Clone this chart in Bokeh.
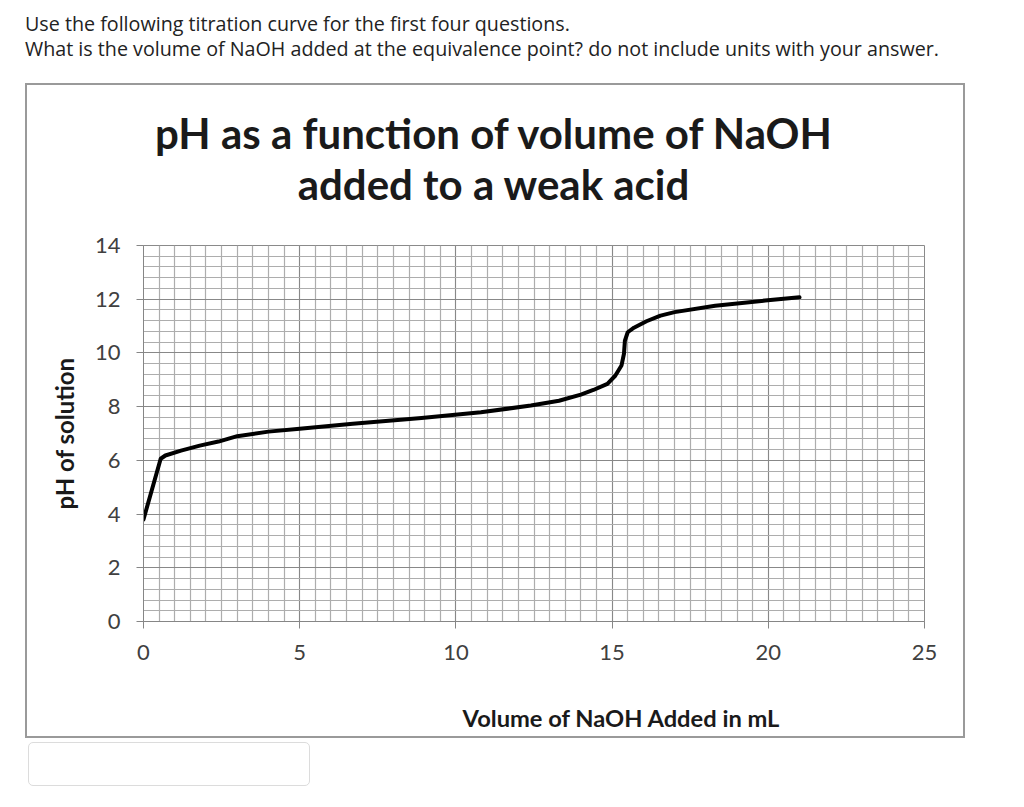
from bokeh.plotting import figure
from bokeh.models import Div, Column, SingleIntervalTicker
from bokeh.embed import file_html
from bokeh.resources import INLINE

# ---- data ----
volume_ml = [0.0, 0.55, 0.7, 1.2, 1.8, 2.4, 3.0, 4.0, 5.0, 6.7, 8.9, 10.8, 12.4, 13.3,
             14.0, 14.4, 14.85, 15.1, 15.3, 15.38, 15.41, 15.5, 15.7, 16.1, 16.55, 17.0,
             18.3, 19.9, 21.0]
ph_values = [3.8, 6.06, 6.18, 6.36, 6.55, 6.7, 6.9, 7.07, 7.18, 7.36, 7.58, 7.79, 8.04, 8.22,
             8.45, 8.62, 8.85, 9.15, 9.53, 9.97, 10.46, 10.77, 10.94, 11.18, 11.39, 11.52,
             11.76, 11.95, 12.07]

question_lines = ["Use the following titration curve for the first four questions.",
                  "What is the volume of NaOH added at the equivalence point? do not include units with your answer."]
title_lines = ["pH as a function of volume of NaOH", "added to a weak acid"]
x_label = "Volume of NaOH Added in mL"
y_label = "pH of solution"

# ---- chart box geometry (pixels) ----
BOX_W, BOX_H = 940, 655
TITLE_H = 147
FL, FR = 118, 899
TOP_PAD, FRAME_H, BOT_PAD = 15, 376, 60
FIG_H = TOP_PAD + FRAME_H + BOT_PAD
XLAB_H = BOX_H - TITLE_H - FIG_H

title_html = ("<div style=\"box-sizing:border-box;font-family:Lato;font-weight:bold;font-size:42px;"
              "line-height:51px;text-align:center;color:#1a1a1a;padding-top:25px;"
              "padding-right:3px;width:940px;white-space:nowrap\">"
              + "<br>".join(title_lines) + "</div>")
title_div = Div(text=title_html, width=BOX_W, height=TITLE_H, margin=0)

p = figure(width=BOX_W, height=FIG_H, x_range=(0, 25), y_range=(0, 14),
           output_backend="svg", toolbar_location=None,
           min_border_left=FL, min_border_right=BOX_W - FR,
           min_border_top=TOP_PAD, min_border_bottom=BOT_PAD, margin=0)
p.background_fill_color = "white"
p.border_fill_color = None
p.outline_line_color = "#8a8a8a"

p.xaxis.ticker = SingleIntervalTicker(interval=5, num_minor_ticks=10)
p.yaxis.ticker = SingleIntervalTicker(interval=2, num_minor_ticks=5)

for ax in (p.xaxis, p.yaxis):
    ax.axis_line_color = "#868686"
    ax.major_tick_line_color = "#868686"
    ax.major_tick_out = 7
    ax.major_tick_in = 0
    ax.minor_tick_line_color = None
    ax.major_label_text_font = "Lato"
    ax.major_label_text_font_size = "22px"
    ax.major_label_text_color = "#404040"
p.xaxis.major_label_standoff = 16
p.yaxis.major_label_standoff = 16

p.yaxis.axis_label = y_label
p.yaxis.axis_label_text_font = "Lato"
p.yaxis.axis_label_text_font_style = "bold"
p.yaxis.axis_label_text_font_size = "24px"
p.yaxis.axis_label_text_color = "#1a1a1a"
p.yaxis.axis_label_standoff = 13

p.xgrid.grid_line_color = "#888888"
p.ygrid.grid_line_color = "#888888"
p.xgrid.minor_grid_line_color = "#adadad"
p.ygrid.minor_grid_line_color = "#adadad"
p.xgrid.minor_grid_line_width = 1.2
p.ygrid.minor_grid_line_width = 1.2

p.line(volume_ml, ph_values, line_width=4, line_color="black",
       line_join="round", line_cap="round")

# x axis title (centred at x = 596 px inside the chart box)
xlab_html = ("<div style=\"box-sizing:border-box;font-family:Lato;font-weight:bold;font-size:23.7px;"
             "line-height:30px;text-align:center;color:#1a1a1a;padding-top:22px;"
             "padding-left:252px;width:940px;white-space:nowrap\">" + x_label + "</div>")
xlab_div = Div(text=xlab_html, width=BOX_W, height=XLAB_H, margin=0)

chart = Column(title_div, p, xlab_div, spacing=0, margin=(0, 0, 0, 25),
               styles={"background-color": "white",
                       "box-shadow": "inset 0 0 0 2px #9a9a9a"})

q_html = ("<div style=\"font-family:'Open Sans';font-size:19.7px;line-height:25px;"
          "color:#222;padding-top:11px;white-space:nowrap\">"
          + "<br>".join(question_lines) + "</div>")
q_div = Div(text=q_html, width=999, height=83, margin=(0, 0, 0, 25))

ans_div = Div(text="", width=282, height=44, margin=(4, 0, 0, 28),
              styles={"border": "1px solid #dcdcdc", "border-radius": "5px",
                      "box-sizing": "border-box"})

page = Column(q_div, chart, ans_div, spacing=0, margin=0)

open("out.html", "w").write(file_html(page, INLINE))
